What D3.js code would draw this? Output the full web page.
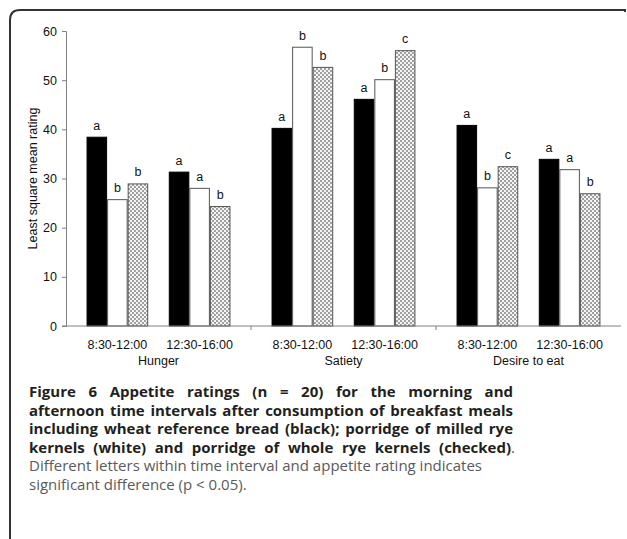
<!DOCTYPE html>
<html><head><meta charset="utf-8">
<script src="https://cdn.jsdelivr.net/npm/d3@7"></script>
<style>body{margin:0;background:#fff}svg{display:block}</style>
</head><body>
<svg id="c" width="627" height="539"></svg>
<script>
const groups = ["Hunger", "Satiety", "Desire to eat"];
const periods = ["8:30-12:00", "12:30-16:00"];
const series = ["black", "white", "checked"];
const blackVals   = [38.5, 31.4, 40.3, 46.2, 40.9, 34.0];
const whiteVals   = [25.8, 28.1, 56.8, 50.2, 28.2, 31.9];
const checkedVals = [29.0, 24.4, 52.7, 56.1, 32.5, 27.0];
const blackLetters   = ["a","a","a","a","a","a"];
const whiteLetters   = ["b","a","b","b","b","a"];
const checkedLetters = ["b","b","b","c","c","b"];
const yTicks = [0,10,20,30,40,50,60];
const yTitle = "Least square mean rating";
const captionBold = [
  "Figure 6 Appetite ratings (n = 20) for the morning and",
  "afternoon time intervals after consumption of breakfast meals",
  "including wheat reference bread (black); porridge of milled rye",
  "kernels (white) and porridge of whole rye kernels (checked)"
];
const captionPlain = [
  "Different letters within time interval and appetite rating indicates",
  "significant difference (p < 0.05)."
];

const svg = d3.select("#c");
const defs = svg.append("defs");
const pat = defs.append("pattern").attr("id","chk").attr("patternUnits","userSpaceOnUse")
  .attr("width",4).attr("height",4);
pat.append("rect").attr("width",4).attr("height",4).attr("fill","#f4f4f4");
pat.append("rect").attr("x",0).attr("y",0).attr("width",2).attr("height",2).attr("fill","#a0a0a0");
pat.append("rect").attr("x",2).attr("y",2).attr("width",2).attr("height",2).attr("fill","#a0a0a0");

// frame
svg.append("path")
  .attr("d","M10,539 L10,20 Q10,10 20,10 L625,10 L625,12")
  .attr("fill","none").attr("stroke","#333").attr("stroke-width",2);

const x0 = d3.scaleBand().domain(groups).range([66,621]).padding(0);
const x1 = d3.scaleBand().domain(periods).range([0,x0.bandwidth()]).paddingInner(0.25).paddingOuter(0.25);
const x2 = d3.scaleBand().domain(series).range([0,x1.bandwidth()]).padding(0);
const y = d3.scaleLinear().domain([0,60]).range([326,31]);

const font = "'Liberation Sans', Arial, sans-serif";
const fs = 12.5;
const vals = {black:blackVals, white:whiteVals, checked:checkedVals};
const letters = {black:blackLetters, white:whiteLetters, checked:checkedLetters};
const fills = {black:"#000", white:"#fff", checked:"url(#chk)"};
const strokes = {black:"#000", white:"#555", checked:"#555"};

const rows = [];
groups.forEach((g,gi)=>periods.forEach((p,pi)=>series.forEach(s=>{
  const i = gi*2+pi;
  rows.push({g,p,s,v:vals[s][i],l:letters[s][i]});
})));

const bars = svg.append("g");
bars.selectAll("rect").data(rows).join("rect")
  .attr("x",d=>x0(d.g)+x1(d.p)+x2(d.s)+0.5)
  .attr("y",d=>y(d.v)+0.5)
  .attr("width",x2.bandwidth()-1)
  .attr("height",d=>y(0)-y(d.v)-0.5)
  .attr("fill",d=>fills[d.s]).attr("stroke",d=>strokes[d.s]).attr("stroke-width",1);

bars.selectAll("text").data(rows).join("text")
  .attr("x",d=>x0(d.g)+x1(d.p)+x2(d.s)+x2.bandwidth()/2)
  .attr("y",d=>y(d.v)-7)
  .attr("text-anchor","middle").attr("font-family",font).attr("font-size",fs).attr("fill","#111")
  .text(d=>d.l);

// y axis
const ya = svg.append("g").attr("transform","translate(66,0)")
  .call(d3.axisLeft(y).tickValues(yTicks).tickSize(4).tickPadding(5));
ya.select(".domain").attr("stroke","#808080");
ya.selectAll(".tick line").attr("stroke","#808080");
ya.selectAll(".tick text").attr("font-family",font).attr("font-size",fs).attr("fill","#111");

// x axis
const xa = svg.append("g");
xa.append("line").attr("x1",62).attr("x2",621).attr("y1",y(0)).attr("y2",y(0)).attr("stroke","#808080");
xa.selectAll("line.t").data(groups.slice(1)).join("line").attr("class","t")
  .attr("x1",d=>x0(d)).attr("x2",d=>x0(d)).attr("y1",y(0)).attr("y2",y(0)+4).attr("stroke","#808080");
const pl = [];
groups.forEach(g=>periods.forEach(p=>pl.push({g,p})));
xa.selectAll("text.p").data(pl).join("text").attr("class","p")
  .attr("x",d=>x0(d.g)+x1(d.p)+x1.bandwidth()/2).attr("y",348.8)
  .attr("text-anchor","middle").attr("font-family",font).attr("font-size",fs).attr("fill","#111")
  .text(d=>d.p);
xa.selectAll("text.g").data(groups).join("text").attr("class","g")
  .attr("x",d=>x0(d)+x0.bandwidth()/2).attr("y",365)
  .attr("text-anchor","middle").attr("font-family",font).attr("font-size",fs).attr("fill","#111")
  .text(d=>d);

svg.append("text").attr("transform","translate(36.5,178.5) rotate(-90)")
  .attr("text-anchor","middle").attr("font-family",font).attr("font-size",fs).attr("fill","#111")
  .text(yTitle);

// caption
const cf = "'Open Sans', 'Noto Sans', sans-serif";
const left = 29, right = 513, base = 397, lh = 18.5;
captionBold.forEach((t,i)=>{
  const tx = svg.append("text").attr("x",left).attr("y",base+i*lh)
    .attr("font-family",cf).attr("font-size",15).attr("font-weight",700).attr("fill","#231f20");
  tx.append("tspan").text(t);
  if(i===3){ tx.append("tspan").attr("font-weight",400).attr("fill","#58595b").text("."); }
  const w = tx.node().getComputedTextLength();
  const n = t.split(" ").length-1;
  const target = (i===3 ? right+2 : right) - left;
  tx.attr("word-spacing",(target-w)/n);
});
captionPlain.forEach((t,i)=>{
  svg.append("text").attr("x",left).attr("y",base+(4+i)*lh)
    .attr("font-family",cf).attr("font-size",15).attr("font-weight",400).attr("fill","#5a5a5c")
    .text(t);
});
</script>
</body></html>
